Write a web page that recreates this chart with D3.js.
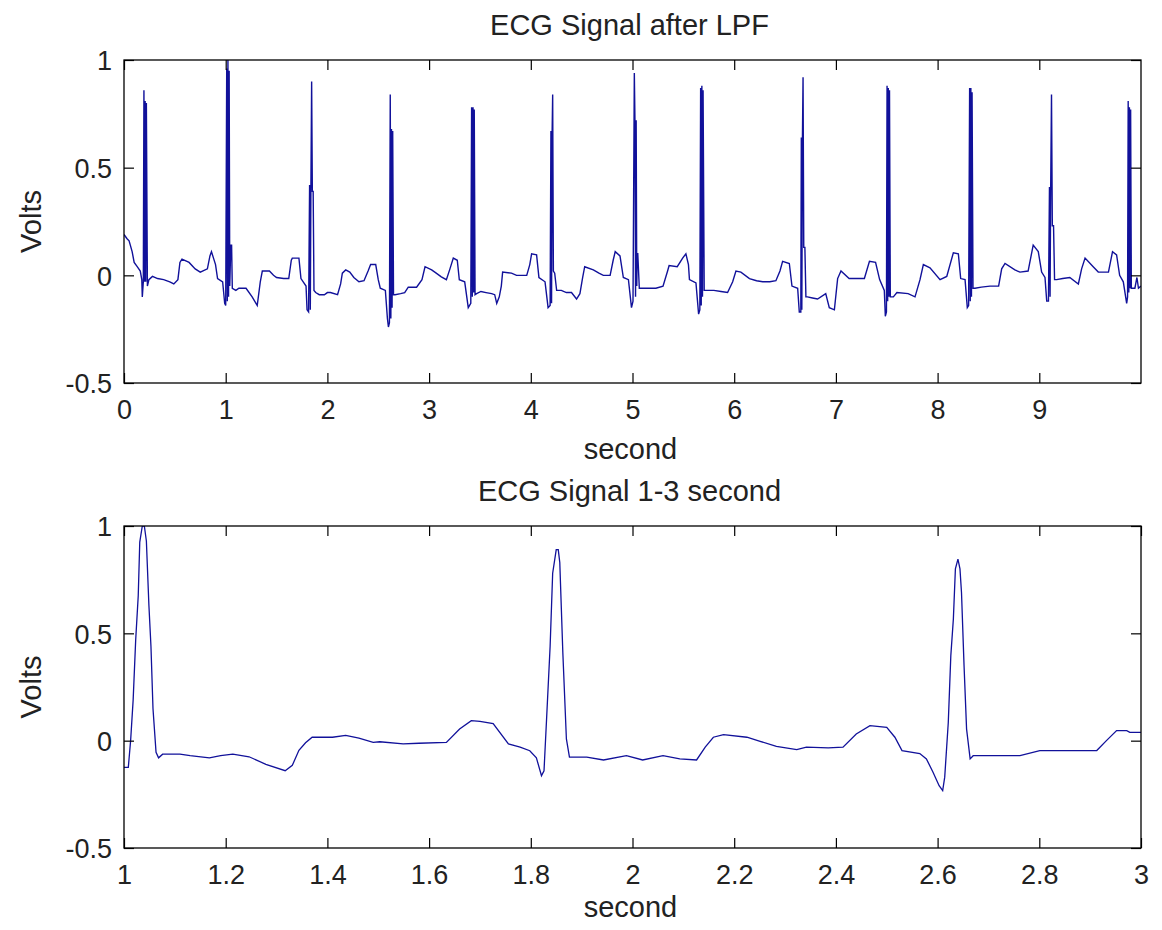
<!DOCTYPE html>
<html>
<head>
<meta charset="utf-8">
<script src="https://cdn.jsdelivr.net/npm/d3@7"></script>
<style>
  body { margin: 0; background: #fff; }
  svg text { font-family: "Liberation Sans", Arial, Helvetica, sans-serif; fill: #222; }
</style>
</head>
<body>
<div id="chart"></div>
<script>
// ECG after low pass filter, 0-10 s  [second, volts]
var lpf_signal = [
  [0, 0.19], [0.03, 0.17], [0.05, 0.16], [0.08, 0.11], [0.1, 0.06], [0.13, 0.04], [0.16, 0.02], [0.175, -0.02], [0.18, -0.10], [0.19, -0.03],
  [0.196, 0.86], [0.202, -0.03], [0.208, 0.81], [0.214, -0.03], [0.22, 0.80], [0.23, -0.05],
  [0.245, -0.02], [0.28, -0.005], [0.33, -0.015], [0.39, -0.02], [0.45, -0.03], [0.49, -0.04], [0.53, -0.02], [0.55, 0.06], [0.57, 0.075], [0.64, 0.06], [0.7, 0.03], [0.75, 0.015], [0.82, 0.03], [0.845, 0.09], [0.86, 0.11], [0.88, 0.08], [0.9, 0.05], [0.92, -0.015], [0.97, -0.03], [0.99, -0.13],
  [1.0, -0.14], [1.01, 0.96], [1.016, -0.12], [1.022, 1.0], [1.028, -0.1], [1.034, 0.95], [1.04, -0.05], [1.05, 0.14], [1.058, 0.14], [1.065, -0.06],
  [1.1, -0.07], [1.13, -0.06], [1.2, -0.06], [1.26, -0.1], [1.31, -0.14], [1.34, -0.03], [1.36, 0.02], [1.43, 0.02], [1.47, 0.0], [1.5, -0.01], [1.57, -0.015], [1.62, -0.015], [1.645, 0.07], [1.655, 0.08], [1.72, 0.08], [1.74, -0.015], [1.79, -0.05], [1.8, -0.16],
  [1.815, -0.17], [1.825, 0.42], [1.832, -0.16], [1.838, 0.42], [1.845, 0.90], [1.852, 0.39], [1.86, 0.39], [1.868, -0.07], [1.885, -0.08],
  [1.92, -0.09], [1.97, -0.09], [2.0, -0.08], [2.03, -0.08], [2.1, -0.09], [2.13, -0.04], [2.147, 0.01], [2.18, 0.025], [2.22, 0.015], [2.26, -0.01], [2.31, -0.03], [2.36, -0.025], [2.4, 0.02], [2.425, 0.05], [2.475, 0.05], [2.5, -0.02], [2.52, -0.06], [2.57, -0.07], [2.59, -0.2], [2.6, -0.24],
  [2.61, -0.22], [2.618, 0.84], [2.624, -0.2], [2.63, 0.68], [2.636, -0.15], [2.642, 0.67], [2.65, -0.09],
  [2.665, -0.09], [2.72, -0.085], [2.76, -0.08], [2.795, -0.055], [2.877, -0.055], [2.93, -0.02], [2.96, 0.04], [3.025, 0.025], [3.07, 0.01], [3.12, -0.007], [3.17, -0.02], [3.205, 0.03], [3.238, 0.08], [3.277, 0.07], [3.297, -0.02], [3.35, -0.03], [3.385, -0.15],
  [3.41, -0.13], [3.418, 0.78], [3.425, -0.1], [3.432, 0.78], [3.438, -0.08], [3.444, 0.77], [3.452, -0.09],
  [3.467, -0.085], [3.51, -0.075], [3.56, -0.08], [3.615, -0.085], [3.645, -0.09], [3.665, -0.13], [3.69, -0.1], [3.71, -0.05], [3.723, 0.015], [3.81, 0.01], [3.86, 0.0], [3.96, 0.0], [3.99, 0.05], [4.008, 0.1], [4.057, 0.095], [4.08, -0.01], [4.14, -0.03], [4.17, -0.15],
  [4.19, -0.14], [4.198, 0.67], [4.204, -0.13], [4.21, 0.67], [4.215, 0.84], [4.222, 0.02], [4.235, 0.01], [4.254, -0.07],
  [4.3, -0.07], [4.35, -0.08], [4.4, -0.08], [4.45, -0.11], [4.483, -0.085], [4.51, -0.01], [4.53, 0.04], [4.615, 0.025], [4.67, 0.01], [4.713, 0.0], [4.78, 0.0], [4.81, 0.07], [4.83, 0.11], [4.877, 0.09], [4.91, -0.01], [4.96, -0.02], [4.99, -0.15],
  [5.005, -0.12], [5.018, 0.94], [5.024, 0.72], [5.03, -0.1], [5.036, 0.72], [5.042, -0.05], [5.046, 0.1], [5.052, 0.1], [5.067, -0.06],
  [5.1, -0.06], [5.165, -0.06], [5.23, -0.06], [5.3, -0.05], [5.345, 0.02], [5.36, 0.045], [5.44, 0.04], [5.493, 0.08], [5.525, 0.1], [5.55, 0.05], [5.56, -0.02], [5.624, -0.035], [5.65, -0.18],
  [5.662, -0.16], [5.67, 0.87], [5.676, -0.14], [5.682, 0.88], [5.688, -0.1], [5.694, 0.86], [5.705, -0.07],
  [5.722, -0.07], [5.8, -0.07], [5.87, -0.075], [5.935, -0.08], [5.985, -0.03], [6.017, 0.02], [6.066, 0.015], [6.15, -0.015], [6.22, -0.025], [6.28, -0.03], [6.35, -0.03], [6.41, -0.025], [6.45, 0.02], [6.476, 0.065], [6.542, 0.055], [6.568, -0.05], [6.624, -0.06], [6.64, -0.17],
  [6.655, -0.17], [6.66, 0.64], [6.665, -0.16], [6.671, 0.64], [6.677, 0.92], [6.684, 0.13], [6.695, 0.13], [6.705, -0.1],
  [6.72, -0.1], [6.77, -0.105], [6.82, -0.11], [6.9, -0.085], [6.935, -0.15], [6.985, -0.16], [7.017, -0.015], [7.05, 0.02], [7.13, -0.015], [7.2, -0.015], [7.28, -0.015], [7.33, 0.065], [7.39, 0.06], [7.43, -0.02], [7.476, -0.07], [7.486, -0.19],
  [7.497, -0.17], [7.503, 0.88], [7.509, -0.12], [7.515, 0.87], [7.521, -0.1], [7.527, 0.86], [7.535, -0.1],
  [7.565, -0.1], [7.6, -0.08], [7.71, -0.085], [7.778, -0.1], [7.827, -0.02], [7.86, 0.05], [7.925, 0.035], [8.024, -0.02], [8.09, -0.005], [8.155, 0.105], [8.204, 0.1], [8.227, -0.015], [8.27, -0.02], [8.292, -0.15],
  [8.305, -0.14], [8.315, 0.87], [8.321, -0.12], [8.327, 0.87], [8.333, -0.1], [8.339, 0.85], [8.348, -0.06],
  [8.368, -0.06], [8.43, -0.055], [8.515, -0.05], [8.6, -0.05], [8.63, 0.03], [8.663, 0.055], [8.76, 0.025], [8.81, 0.015], [8.89, 0.02], [8.94, 0.14], [8.99, 0.11], [9.023, 0.015], [9.056, -0.01], [9.073, -0.12],
  [9.09, -0.12], [9.1, 0.41], [9.106, -0.1], [9.112, 0.41], [9.12, 0.84], [9.128, 0.23], [9.14, 0.23], [9.15, -0.02],
  [9.17, -0.02], [9.23, -0.015], [9.3, -0.01], [9.384, -0.04], [9.416, 0.03], [9.45, 0.08], [9.53, 0.04], [9.58, 0.015], [9.68, 0.015], [9.72, 0.11], [9.76, 0.095], [9.79, 0.0], [9.826, -0.03], [9.859, -0.13],
  [9.868, -0.1], [9.874, 0.81], [9.88, -0.08], [9.886, 0.78], [9.892, -0.06], [9.898, 0.77], [9.905, -0.06],
  [9.94, -0.06], [9.96, -0.01], [9.975, -0.06], [10.0, -0.05]
];

// zoom on 1-3 s  [second, volts]
var zoom_signal = [
  [1.0, -0.124], [1.0085, -0.124], [1.013, 0.0], [1.018, 0.19], [1.023, 0.47], [1.028, 0.675], [1.031, 0.925], [1.036, 1.0], [1.04, 1.0], [1.044, 0.93], [1.049, 0.63], [1.053, 0.44], [1.057, 0.15], [1.063, -0.054], [1.068, -0.08],
  [1.076, -0.063], [1.11, -0.063], [1.13, -0.07], [1.168, -0.08], [1.19, -0.07], [1.214, -0.063], [1.246, -0.075], [1.279, -0.11], [1.317, -0.14], [1.331, -0.115], [1.344, -0.045], [1.357, -0.01], [1.37, 0.016], [1.41, 0.016], [1.436, 0.025], [1.462, 0.012], [1.49, -0.008],
  [1.503, -0.005], [1.549, -0.015], [1.58, -0.012], [1.634, -0.008], [1.66, 0.054], [1.683, 0.093], [1.70, 0.09], [1.726, 0.08], [1.756, -0.015], [1.779, -0.03], [1.798, -0.047], [1.811, -0.08], [1.821, -0.163], [1.826, -0.14],
  [1.831, 0.10], [1.838, 0.44], [1.843, 0.78], [1.85, 0.89], [1.854, 0.89], [1.857, 0.83], [1.863, 0.41], [1.87, 0.008], [1.876, -0.077],
  [1.91, -0.077], [1.943, -0.09], [1.988, -0.07], [2.02, -0.09], [2.06, -0.07], [2.093, -0.085], [2.126, -0.09], [2.143, -0.03], [2.159, 0.016], [2.179, 0.028], [2.225, 0.016], [2.251, -0.003],
  [2.283, -0.027], [2.323, -0.042], [2.342, -0.03], [2.385, -0.034], [2.414, -0.03], [2.44, 0.031], [2.467, 0.07], [2.5, 0.062], [2.516, 0.016], [2.53, -0.046], [2.565, -0.06], [2.578, -0.085], [2.591, -0.147], [2.603, -0.21], [2.61, -0.233], [2.614, -0.17],
  [2.621, 0.085], [2.626, 0.396], [2.631, 0.567], [2.635, 0.80], [2.64, 0.846], [2.644, 0.80], [2.647, 0.69], [2.652, 0.35], [2.657, 0.054], [2.664, -0.085],
  [2.67, -0.07], [2.762, -0.07], [2.801, -0.046], [2.913, -0.046], [2.932, 0.0], [2.952, 0.047], [2.972, 0.047], [2.978, 0.039], [3.0, 0.039]
];

var top_xticks = [0, 1, 2, 3, 4, 5, 6, 7, 8, 9];
var bottom_xticks = [1, 1.2, 1.4, 1.6, 1.8, 2, 2.2, 2.4, 2.6, 2.8, 3];
var volt_ticks = [-0.5, 0, 0.5, 1];

var W = 1162, H = 930;
var LINE_COLOR = "#11119a";

const svg = d3.select("#chart")
  .append("svg")
  .attr("width", W)
  .attr("height", H)
  .attr("viewBox", [0, 0, W, H]);

svg.append("rect").attr("width", W).attr("height", H).attr("fill", "#fff");

function draw_panel(data, box, xdomain, xticks, title, id) {
  var x = d3.scaleLinear().domain(xdomain).range([box.left, box.right]);
  var y = d3.scaleLinear().domain([-0.5, 1]).range([box.bottom, box.top]);
  var fmt = d => String(d);

  svg.append("clipPath").attr("id", id)
    .append("rect")
    .attr("x", box.left).attr("y", box.top)
    .attr("width", box.right - box.left).attr("height", box.bottom - box.top);

  var line = d3.line().x(d => x(d[0])).y(d => y(d[1]));
  svg.append("path")
    .datum(data)
    .attr("clip-path", `url(#${id})`)
    .attr("fill", "none")
    .attr("stroke", LINE_COLOR)
    .attr("stroke-width", box.lw)
    .attr("stroke-linejoin", "miter")
    .attr("d", line);

  // ticks on every side, pointing inwards (matlab box style)
  var xb = svg.append("g")
    .attr("transform", `translate(0,${box.bottom})`)
    .call(d3.axisBottom(x).tickValues(xticks).tickFormat(fmt).tickSizeInner(-10).tickSizeOuter(0).tickPadding(17));
  var xt = svg.append("g")
    .attr("transform", `translate(0,${box.top})`)
    .call(d3.axisTop(x).tickValues(xticks).tickFormat("").tickSizeInner(-10).tickSizeOuter(0));
  var yl = svg.append("g")
    .attr("transform", `translate(${box.left},0)`)
    .call(d3.axisLeft(y).tickValues(volt_ticks).tickFormat(fmt).tickSizeInner(-10).tickSizeOuter(0).tickPadding(12));
  var yr = svg.append("g")
    .attr("transform", `translate(${box.right},0)`)
    .call(d3.axisRight(y).tickValues(volt_ticks).tickFormat("").tickSizeInner(-10).tickSizeOuter(0));

  [xb, xt, yl, yr].forEach(g => {
    g.select(".domain").remove();
    g.selectAll(".tick line").attr("stroke", "#000").attr("stroke-width", 1.2);
    g.selectAll(".tick text").attr("font-size", 27).attr("fill", "#222");
  });
  yl.selectAll(".tick text").attr("dy", "0.36em");

  svg.append("rect")
    .attr("x", box.left).attr("y", box.top)
    .attr("width", box.right - box.left).attr("height", box.bottom - box.top)
    .attr("fill", "none").attr("stroke", "#000").attr("stroke-width", 1.3);

  var cx = (box.left + box.right) / 2;
  svg.append("text")
    .attr("x", cx - 3).attr("y", box.top - 25)
    .attr("text-anchor", "middle")
    .attr("font-size", 29)
    .text(title);

  svg.append("text")
    .attr("x", cx - 2).attr("y", box.xlabel)
    .attr("text-anchor", "middle")
    .attr("font-size", 29)
    .text("second");

  svg.append("text")
    .attr("transform", `translate(41,${(box.top + box.bottom) / 2}) rotate(-90)`)
    .attr("text-anchor", "middle")
    .attr("font-size", 29)
    .text("Volts");
}

draw_panel(lpf_signal, {left: 124, right: 1141, top: 60, bottom: 383, xlabel: 459, lw: 1.4},
  [0, 10], top_xticks, "ECG Signal after LPF", "clip-top");
draw_panel(zoom_signal, {left: 124, right: 1141, top: 526, bottom: 848, xlabel: 917, lw: 1.3},
  [1, 3], bottom_xticks, "ECG Signal 1-3 second", "clip-bottom");
</script>
</body>
</html>
